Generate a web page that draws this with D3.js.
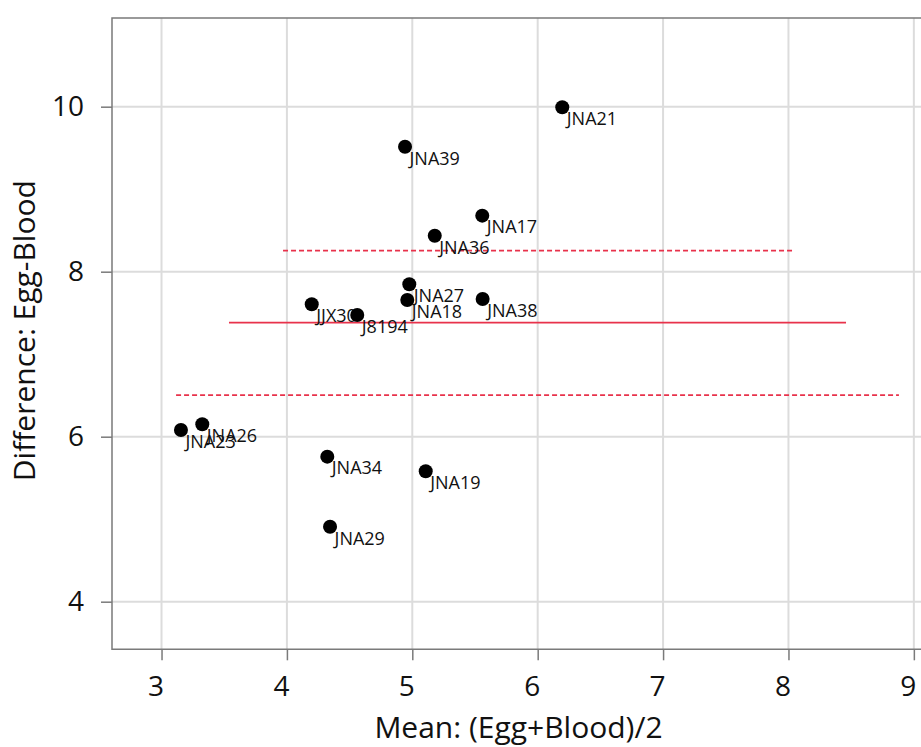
<!DOCTYPE html>
<html>
<head>
<meta charset="utf-8">
<script src="https://cdn.jsdelivr.net/npm/d3@7"></script>
<style>
  html, body { margin: 0; padding: 0; background: #fff; }
  svg { display: block; font-family: "Open Sans", "Noto Sans", sans-serif; }
</style>
</head>
<body>
<div id="chart"></div>
<script>
// ---- data ----
const names = ["JNA21","JNA39","JNA17","JNA36","JNA27","JNA18","JNA38","JJX30","J8194","JNA23","JNA26","JNA34","JNA19","JNA29"];
const meanVals = [6.196, 4.942, 5.558, 5.179, 4.976, 4.960, 5.561, 4.198, 4.561, 3.155, 3.325, 4.322, 5.107, 4.344];
const diffVals = [9.993, 9.515, 8.679, 8.436, 7.847, 7.657, 7.669, 7.605, 7.475, 6.081, 6.150, 5.758, 5.581, 4.909];
const xTicks = [3, 4, 5, 6, 7, 8, 9];
const yTicks = [4, 6, 8, 10];
// reference lines: [yValue, xStart, xEnd]
const meanLine = [7.382, 3.538, 8.459];
const upperLine = [8.255, 3.969, 8.036];
const lowerLine = [6.505, 3.116, 8.881];

(function () {
const W = 921, H = 747;
const pL = 112, pR = 921, pT = 18, pB = 649.3;

const x = d3.scaleLinear().domain([2.605, 9.057]).range([pL, pR]);
const y = d3.scaleLinear().domain([3.423, 11.075]).range([pB, pT]);

const svg = d3.select("#chart").append("svg").attr("width", W).attr("height", H);

const red = "#e8324b";
const gridColor = "#dcdcdc";
const axisColor = "#7a7a7a";
const fontFam = "'Open Sans', 'Noto Sans', sans-serif";

// gridlines
svg.append("g").selectAll("line").data(xTicks).join("line")
  .attr("x1", d => x(d)).attr("x2", d => x(d))
  .attr("y1", pT).attr("y2", pB)
  .attr("stroke", gridColor).attr("stroke-width", 2);
svg.append("g").selectAll("line").data(yTicks).join("line")
  .attr("x1", pL).attr("x2", pR)
  .attr("y1", d => y(d)).attr("y2", d => y(d))
  .attr("stroke", gridColor).attr("stroke-width", 2);

// axes
const xAxis = d3.axisBottom(x).tickValues(xTicks).tickSize(11).tickPadding(16).tickFormat(d3.format("d"));
const yAxis = d3.axisLeft(y).tickValues(yTicks).tickSize(11).tickPadding(17).tickFormat(d3.format("d"));

const gx = svg.append("g").attr("transform", `translate(0,${pB})`).call(xAxis);
const gy = svg.append("g").attr("transform", `translate(${pL},0)`).call(yAxis);
[gx, gy].forEach(g => {
  g.select(".domain").remove();
  g.selectAll(".tick line").attr("stroke", axisColor).attr("stroke-width", 1.5);
  g.selectAll(".tick text").attr("fill", "#111").style("font-size", "28px")
    .style("font-family", fontFam);
});
gx.selectAll(".tick text").attr("dx", -6);

// frame (left, top, bottom)
svg.append("path")
  .attr("d", `M${pR},${pT}H${pL}V${pB}H${pR}`)
  .attr("fill", "none").attr("stroke", axisColor).attr("stroke-width", 1.5);

// reference lines
const refs = [
  { v: meanLine, dash: null },
  { v: upperLine, dash: "5,3" },
  { v: lowerLine, dash: "5,3" }
];
svg.append("g").selectAll("line").data(refs).join("line")
  .attr("x1", d => x(d.v[1])).attr("x2", d => x(d.v[2]))
  .attr("y1", d => y(d.v[0])).attr("y2", d => y(d.v[0]))
  .attr("stroke", red).attr("stroke-width", 1.8)
  .attr("stroke-dasharray", d => d.dash);

const pts = names.map((n, i) => ({ name: n, mx: meanVals[i], dy: diffVals[i] }));

// labels
svg.append("g").selectAll("text").data(pts).join("text")
  .attr("x", d => x(d.mx) + 4.5)
  .attr("y", d => y(d.dy) + 17.8)
  .attr("fill", "#111")
  .style("font-size", "18px")
  .text(d => d.name);

// points
svg.append("g").selectAll("circle").data(pts).join("circle")
  .attr("cx", d => x(d.mx)).attr("cy", d => y(d.dy))
  .attr("r", 7).attr("fill", "#000");

// axis titles
svg.append("text")
  .attr("x", (pL + pR) / 2 + 2).attr("y", 738)
  .attr("text-anchor", "middle").attr("fill", "#111")
  .style("font-size", "30px")
  .text("Mean: (Egg+Blood)/2");
svg.append("text")
  .attr("transform", `translate(35,${(pT + pB) / 2 - 3}) rotate(-90)`)
  .attr("text-anchor", "middle").attr("fill", "#111")
  .style("font-size", "30px")
  .text("Difference: Egg-Blood");
})();
</script>
</body>
</html>
